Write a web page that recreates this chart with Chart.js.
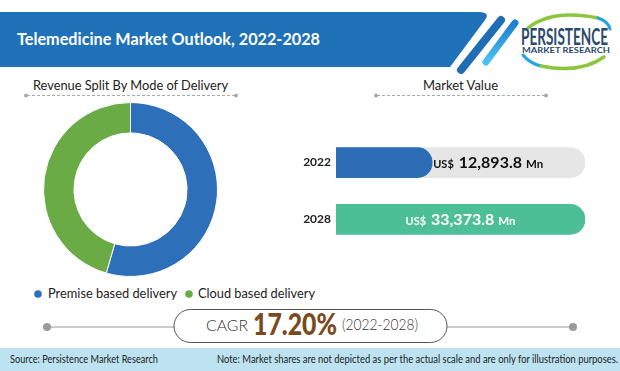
<!DOCTYPE html>
<html>
<head>
<meta charset="utf-8">
<script src="https://cdn.jsdelivr.net/npm/chart.js@4.4.1/dist/chart.umd.min.js"></script>
<style>
  body { margin: 0; background: #fff; width: 620px; height: 371px; overflow: hidden; position: relative; }
  #deco { position: absolute; left: 0; top: 0; }
  #donut { position: absolute; left: 43px; top: 102px; }
  #bars { position: absolute; left: 290px; top: 122px; }
  text { font-family: Lato, "Open Sans", sans-serif; }
</style>
</head>
<body>

<svg id="deco" width="620" height="371" xmlns="http://www.w3.org/2000/svg">
  <defs>
    <linearGradient id="stripe2" x1="0" y1="0" x2="0" y2="1">
      <stop offset="0" stop-color="#1d7fcf"/>
      <stop offset="1" stop-color="#4cc3ee"/>
    </linearGradient>
  </defs>

  <!-- header band -->
  <path d="M0,12 H478 Q491,12 485,20 L450,67 H0 Z" fill="#1f71b8"/>
  <line x1="501" y1="20" x2="461" y2="70" stroke="#1f6db4" stroke-width="8" stroke-linecap="round"/>
  <line x1="515" y1="23" x2="486" y2="62" stroke="url(#stripe2)" stroke-width="7" stroke-linecap="round"/>
  <text x="17" y="45" font-size="17" font-weight="bold" fill="#fff" textLength="303" lengthAdjust="spacingAndGlyphs">Telemedicine Market Outlook, 2022-2028</text>

  <!-- logo -->
  <path d="M528,28 Q552,9 598,18" fill="none" stroke="#8cc63f" stroke-width="3.5" stroke-linecap="round"/>
  <path d="M598,18 Q608,21 610,29" fill="none" stroke="#27a3dd" stroke-width="3" stroke-linecap="round"/>
  <path d="M523,55 Q529,63 541,66" fill="none" stroke="#27a3dd" stroke-width="3" stroke-linecap="round"/>
  <path d="M541,66 Q580,74 604,57" fill="none" stroke="#8cc63f" stroke-width="3.5" stroke-linecap="round"/>
  <text x="521" y="44.5" font-size="22" font-weight="bold" fill="#2b4a6d" textLength="87" lengthAdjust="spacingAndGlyphs">PERSISTENCE</text>
  <text x="522" y="52.5" font-size="7" font-weight="bold" fill="#2b4a6d" textLength="88" lengthAdjust="spacingAndGlyphs">MARKET RESEARCH</text>

  <!-- section titles -->
  <text x="33" y="90" font-size="14" fill="#222" textLength="195" lengthAdjust="spacingAndGlyphs">Revenue Split By Mode of Delivery</text>
  <line x1="27" y1="95.5" x2="235" y2="95.5" stroke="#aaa" stroke-width="1" stroke-dasharray="3 2"/>
  <circle cx="26" cy="95.5" r="2" fill="#aaa"/>
  <circle cx="236" cy="95.5" r="2" fill="#aaa"/>

  <text x="423" y="90" font-size="14" fill="#222" textLength="75" lengthAdjust="spacingAndGlyphs">Market Value</text>
  <line x1="377" y1="95.5" x2="545" y2="95.5" stroke="#aaa" stroke-width="1" stroke-dasharray="3 2"/>
  <circle cx="376" cy="95.5" r="2" fill="#aaa"/>
  <circle cx="546" cy="95.5" r="2" fill="#aaa"/>

  <!-- legend (filled from data below) -->
  <g id="legend"></g>

  <!-- CAGR capsule -->
  <line x1="47" y1="327" x2="174" y2="327" stroke="#999" stroke-width="1"/>
  <line x1="447" y1="327" x2="573" y2="327" stroke="#999" stroke-width="1"/>
  <circle cx="47" cy="327" r="4" fill="#9a9a9a"/>
  <circle cx="573" cy="327" r="4" fill="#9a9a9a"/>
  <rect x="174" y="309.5" width="273" height="33" rx="16.5" fill="#fff" stroke="#555" stroke-width="1"/>
  <text id="cagrWord" x="206" y="331" font-size="16" font-weight="300" fill="#333" textLength="42" lengthAdjust="spacingAndGlyphs">CAGR</text>
  <text id="cagrValue" x="253" y="335" font-size="30" font-weight="900" fill="#7a4a1e" textLength="84" lengthAdjust="spacingAndGlyphs"></text>
  <text id="cagrPeriod" x="342" y="330" font-size="15" font-weight="300" fill="#333" textLength="76" lengthAdjust="spacingAndGlyphs"></text>

  <!-- footer -->
  <rect x="0" y="348" width="620" height="23" fill="#bde3f1"/>
  <text x="10" y="363" font-size="10.5" fill="#222" textLength="148" lengthAdjust="spacingAndGlyphs">Source: Persistence Market Research</text>
  <text x="217" y="363" font-size="10.5" fill="#222" textLength="401" lengthAdjust="spacingAndGlyphs">Note: Market shares are not depicted as per the actual scale and are only for illustration purposes.</text>
</svg>

<canvas id="donut" width="175" height="175"></canvas>
<canvas id="bars" width="300" height="138"></canvas>

<script>
// revenue split
const deliveryModes = ['Premise based delivery', 'Cloud based delivery']
const deliveryShare = [54.5, 45.5]
const modeColors = ['#2e6fba', '#6aab46']

// market value, US$ Mn
const years = ['2022', '2028']
const marketValue = [12893.8, 33373.8]
const barColors = ['#2c6db5', '#4dbf97']

const cagrLabel = '17.20%'
const cagrPeriod = '(2022-2028)'

const scaleMax = Math.max(...marketValue)


// legend + cagr text
const legendPos = [[38, 48, 129], [189, 198, 117]]
const legend = document.querySelector('#legend')
deliveryModes.forEach((name, i) => {
  const [dotX, textX, len] = legendPos[i]
  legend.insertAdjacentHTML('beforeend',
    `<circle cx="${dotX}" cy="294" r="3.8" fill="${modeColors[i]}"/>` +
    `<text x="${textX}" y="298" font-size="13.5" fill="#222" textLength="${len}" lengthAdjust="spacingAndGlyphs">${name}</text>`)
})
document.querySelector('#cagrValue').textContent = cagrLabel
document.querySelector('#cagrPeriod').textContent = cagrPeriod


new Chart(document.querySelector('#donut'), {
  type: 'doughnut',
  data: {
    labels: deliveryModes,
    datasets: [{
      data: deliveryShare,
      backgroundColor: modeColors,
      borderColor: '#fff',
      borderWidth: 1
    }]
  },
  options: {
    responsive: false,
    animation: false,
    cutout: '65%',
    plugins: { legend: { display: false }, tooltip: { enabled: false } }
  }
})


const fmt = v => v.toLocaleString('en-US', { minimumFractionDigits: 1, maximumFractionDigits: 1 })

// "US$ 12,893.8 Mn" next to / inside each bar
const valueLabels = {
  id: 'valueLabels',
  afterDatasetsDraw(chart) {
    const ctx = chart.ctx
    chart.getDatasetMeta(0).data.forEach((bar, i) => {
      const parts = [
        ['US$', 'bold 11px Lato', 5],
        [fmt(marketValue[i]), 'bold 16px Lato', 4],
        ['Mn', 'bold 11.5px Lato', 0]
      ]
      ctx.save()
      let w = 0
      parts.forEach(p => { ctx.font = p[1]; w += ctx.measureText(p[0]).width + p[2] })
      const full = bar.x >= chart.chartArea.right - 1
      let x = full ? (bar.base + bar.x) / 2 - w / 2 : bar.x + 1
      ctx.fillStyle = full ? '#fff' : '#111'
      ctx.textBaseline = 'alphabetic'
      parts.forEach(p => {
        ctx.font = p[1]
        ctx.fillText(p[0], x, bar.y + 5.5)
        x += ctx.measureText(p[0]).width + p[2]
      })
      ctx.restore()
    })
  }
}

new Chart(document.querySelector('#bars'), {
  type: 'bar',
  data: {
    labels: years,
    datasets: [
      {
        data: marketValue,
        backgroundColor: barColors,
        borderRadius: 15,
        barThickness: 30,
        grouped: false,
        order: 0
      },
      {
        data: years.map(() => scaleMax),
        backgroundColor: '#e6e6e6',
        borderRadius: 15,
        barThickness: 30,
        grouped: false,
        order: 1
      }
    ]
  },
  options: {
    indexAxis: 'y',
    responsive: false,
    animation: false,
    layout: { padding: { right: 5 } },
    scales: {
      x: { display: false, min: 0, max: scaleMax },
      y: {
        grid: { display: false, drawTicks: false },
        border: { display: false },
        ticks: { padding: 5, color: '#222', font: { family: 'Lato', weight: 'bold', size: 12 } },
        afterFit(scale) { scale.width = 46 }
      }
    },
    plugins: { legend: { display: false }, tooltip: { enabled: false } }
  },
  plugins: [valueLabels]
})
</script>
</body>
</html>
